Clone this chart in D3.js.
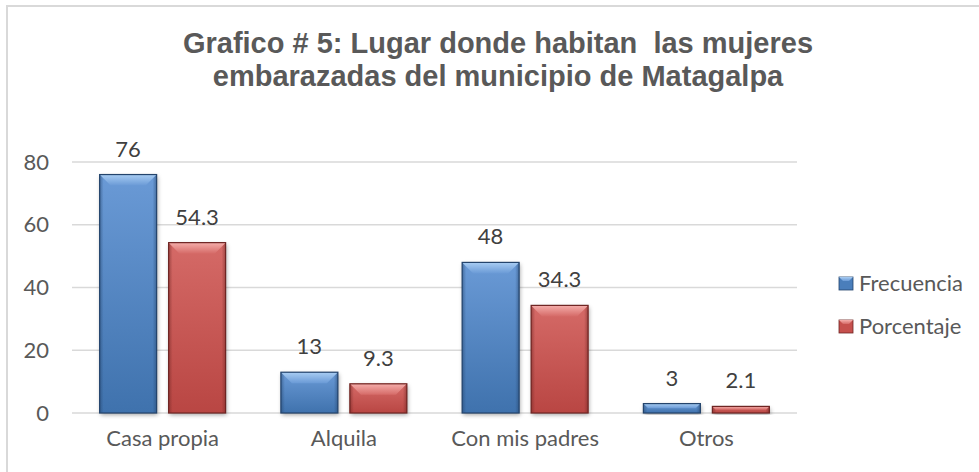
<!DOCTYPE html>
<html>
<head>
<meta charset="utf-8">
<script src="https://cdn.jsdelivr.net/npm/d3@7"></script>
<style>
  body { margin: 0; background: #fff; }
  svg { display: block; }
</style>
</head>
<body>
<div id="chart"></div>
<script>
// data
var categories = ["Casa propia", "Alquila", "Con mis padres", "Otros"];
var seriesNames = ["Frecuencia", "Porcentaje"];
var frecuencia = [76, 13, 48, 3];
var porcentaje = [54.3, 9.3, 34.3, 2.1];
var yTicks = [0, 20, 40, 60, 80];
var titleLines = ["Grafico # 5: Lugar donde habitan  las mujeres",
                  "embarazadas del municipio de Matagalpa"];

var W = 979, H = 472;
var labelFont = "Lato, 'Open Sans', sans-serif";

var svg = d3.select("#chart")
    .append("svg")
    .attr("width", W)
    .attr("height", H);

// chart border (only top and left edges show in the crop)
svg.append("rect")
    .attr("x", 7).attr("y", 6)
    .attr("width", W + 10).attr("height", H + 10)
    .attr("fill", "#fff")
    .attr("stroke", "#d9d9d9")
    .attr("stroke-width", 2);

// gradients for the bevelled bars
var defs = svg.append("defs");
var palette = {
    Frecuencia: { light: "#6a9ad6", mid: "#4a7ebb", dark: "#3f72ad", edge: "#24446c", top: "#a9cdf3" },
    Porcentaje: { light: "#d56a67", mid: "#c6504d", dark: "#b94643", edge: "#6e2523", top: "#f5aeab" }
};
seriesNames.forEach(function (s) {
    var c = palette[s];
    var g = defs.append("linearGradient").attr("id", "grad-" + s)
        .attr("x1", 0).attr("y1", 0).attr("x2", 0).attr("y2", 1);
    g.append("stop").attr("offset", "0%").attr("stop-color", c.light);
    g.append("stop").attr("offset", "100%").attr("stop-color", c.dark);
    var h = defs.append("linearGradient").attr("id", "side-" + s)
        .attr("x1", 0).attr("y1", 0).attr("x2", 1).attr("y2", 0);
    h.append("stop").attr("offset", "0%").attr("stop-color", c.edge).attr("stop-opacity", 0.5);
    h.append("stop").attr("offset", "7%").attr("stop-color", c.edge).attr("stop-opacity", 0);
    h.append("stop").attr("offset", "93%").attr("stop-color", c.edge).attr("stop-opacity", 0);
    h.append("stop").attr("offset", "100%").attr("stop-color", c.edge).attr("stop-opacity", 0.5);
    var t = defs.append("linearGradient").attr("id", "top-" + s)
        .attr("x1", 0).attr("y1", 0).attr("x2", 0).attr("y2", 1);
    t.append("stop").attr("offset", "0%").attr("stop-color", c.top);
    t.append("stop").attr("offset", "100%").attr("stop-color", c.light);
});
var shadow = defs.append("filter").attr("id", "shadow")
    .attr("x", "-20%").attr("y", "-20%").attr("width", "140%").attr("height", "140%");
shadow.append("feDropShadow")
    .attr("dx", 1).attr("dy", 2).attr("stdDeviation", 2)
    .attr("flood-color", "#000").attr("flood-opacity", 0.35);

// title
svg.append("text")
    .attr("text-anchor", "middle")
    .attr("xml:space", "preserve")
    .style("white-space", "pre")
    .style("font-family", "'Liberation Sans', Arial, sans-serif")
    .style("font-weight", "bold")
    .style("font-size", "29px")
    .attr("fill", "#595959")
    .selectAll("tspan")
    .data(titleLines)
    .enter()
    .append("tspan")
    .attr("x", 498)
    .attr("y", function (d, i) { return 53 + i * 33; })
    .text(function (d) { return d; });

// scales
var y = d3.scaleLinear().domain([0, 80]).range([413, 162]);
var x0 = d3.scaleBand().domain(categories).range([72, 797])
    .paddingInner(0.305).paddingOuter(0.1525);
var x1 = d3.scaleBand().domain(seriesNames).range([0, x0.bandwidth()])
    .paddingInner(0.174);

// gridlines
svg.append("g")
    .selectAll("line")
    .data(yTicks)
    .enter()
    .append("line")
    .attr("x1", 72).attr("x2", 797)
    .attr("y1", function (d) { return y(d); })
    .attr("y2", function (d) { return y(d); })
    .attr("stroke", "#d9d9d9")
    .attr("stroke-width", 1.5);

// y axis labels
var yAxis = d3.axisLeft(y).tickValues(yTicks).tickSize(0).tickPadding(0);
var gy = svg.append("g").attr("transform", "translate(49,0)").call(yAxis);
gy.select(".domain").remove();
gy.selectAll("text")
    .style("font-family", labelFont)
    .style("font-size", "22px")
    .attr("fill", "#595959");

// x axis labels
var xAxis = d3.axisBottom(x0).tickSize(0).tickPadding(0);
var gx = svg.append("g").attr("transform", "translate(0,430)").call(xAxis);
gx.select(".domain").remove();
gx.selectAll("text")
    .style("font-family", labelFont)
    .style("font-size", "22px")
    .attr("fill", "#595959");

// rows: one per category/series
var rows = [];
categories.forEach(function (c, i) {
    rows.push({ cat: c, series: "Frecuencia", value: frecuencia[i] });
    rows.push({ cat: c, series: "Porcentaje", value: porcentaje[i] });
});

var bars = svg.append("g")
    .selectAll("g")
    .data(rows)
    .enter()
    .append("g")
    .attr("transform", function (d) { return "translate(" + (x0(d.cat) + x1(d.series)) + ",0)"; });

var bw = x1.bandwidth();
bars.append("rect")
    .attr("x", 0)
    .attr("y", function (d) { return y(d.value); })
    .attr("width", bw)
    .attr("height", function (d) { return y(0) - y(d.value); })
    .attr("fill", function (d) { return palette[d.series].mid; })
    .attr("filter", "url(#shadow)");
bars.append("rect")
    .attr("x", 0)
    .attr("y", function (d) { return y(d.value); })
    .attr("width", bw)
    .attr("height", function (d) { return y(0) - y(d.value); })
    .attr("fill", function (d) { return "url(#grad-" + d.series + ")"; });
bars.append("rect")
    .attr("x", 0)
    .attr("y", function (d) { return y(d.value); })
    .attr("width", bw)
    .attr("height", function (d) { return y(0) - y(d.value); })
    .attr("fill", function (d) { return "url(#side-" + d.series + ")"; });
// bevel top
bars.append("polygon")
    .attr("points", function (d) {
        var t = y(d.value), h = Math.min(11, (y(0) - t) / 2);
        return [[0, t], [bw, t], [bw - h, t + h], [h, t + h]].join(" ");
    })
    .attr("fill", function (d) { return "url(#top-" + d.series + ")"; });
bars.append("rect")
    .attr("x", 0)
    .attr("y", function (d) { return y(d.value); })
    .attr("width", bw)
    .attr("height", function (d) { return y(0) - y(d.value); })
    .attr("fill", "none")
    .attr("stroke", function (d) { return palette[d.series].edge; })
    .attr("stroke-width", 1.2);

// value labels
bars.append("text")
    .attr("x", bw / 2)
    .attr("y", function (d) { return y(d.value) - 18; })
    .attr("text-anchor", "middle")
    .style("font-family", labelFont)
    .style("font-size", "22px")
    .attr("fill", "#404040")
    .text(function (d) { return d.value; });

// legend
var legend = svg.append("g")
    .selectAll("g")
    .data(seriesNames)
    .enter()
    .append("g")
    .attr("transform", function (d, i) { return "translate(839," + (277 + i * 43) + ")"; });
legend.append("rect")
    .attr("width", 14).attr("height", 13)
    .attr("fill", function (d) { return palette[d].mid; })
    .attr("stroke", function (d) { return palette[d].edge; })
    .attr("stroke-width", 0.8);
legend.append("polygon")
    .attr("points", "0,0 14,0 10,4 4,4")
    .attr("fill", function (d) { return "url(#top-" + d + ")"; });
legend.append("text")
    .attr("x", 20)
    .attr("y", 6.5)
    .attr("dy", "0.35em")
    .style("font-family", labelFont)
    .style("font-size", "22px")
    .attr("fill", "#595959")
    .text(function (d) { return d; });
</script>
</body>
</html>
